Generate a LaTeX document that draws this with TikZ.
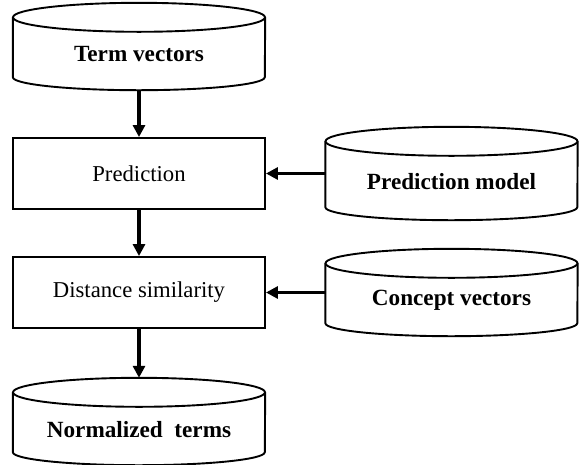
\documentclass[tikz,border=0pt]{standalone}
\usepackage{fontspec}
\setmainfont{Liberation Serif}
\usetikzlibrary{arrows.meta,calc}
\tikzset{>={Triangle[length=12pt,width=12pt]}}
\tikzset{
  procbox/.style={draw, line width=1.9pt, minimum width=252pt, minimum height=71pt, inner sep=0pt},
  store/.style={minimum width=252pt, minimum height=45pt, inner sep=0pt,
    font=\fontsize{23.2}{27}\selectfont\bfseries},
  flow/.style={->, line width=3.2pt},
}

\begin{document}
\begin{tikzpicture}[x=1pt,y=-1pt,font=\fontsize{22.7}{27}\selectfont]
  \useasboundingbox (0,0) rectangle (579,464);

  % left column
  \node[store] (term) at (139,54.5) {Term vectors};
  \node[procbox] (pred) at (139,173.5) {Prediction};
  \node[procbox] (dist) at (139,292.5) {Distance similarity};
  \node[store] (norm) at (139,429.5) {Normalized\ \ terms};

  % right column
  \node[store, minimum height=51pt] (model) at (451.5,181.5) {Prediction model};
  \node[store] (concept) at (451.5,300.5) {Concept vectors};

  % database outlines
  \foreach \n in {term,model,concept,norm}{
    \draw[line width=1.9pt] ($(\n.north)+(0,-14.5)$) ellipse [x radius=126pt, y radius=14.5pt];
    \draw[line width=1.9pt] ($(\n.north west)+(0,-14.5)$) -- (\n.south west)
      arc[start angle=180, end angle=360, x radius=126pt, y radius=13pt]
      -- ($(\n.north east)+(0,-14.5)$);
  }

  \draw[flow] ($(term.south)+(0,13)$) -- (pred);
  \draw[flow] (pred) -- (dist);
  \draw[flow] (dist) -- ($(norm.north)+(0,-29)$);
  \draw[flow] (model.west |- pred.east) -- (pred.east);
  \draw[flow] (concept.west |- dist.east) -- (dist.east);
\end{tikzpicture}
\end{document}
